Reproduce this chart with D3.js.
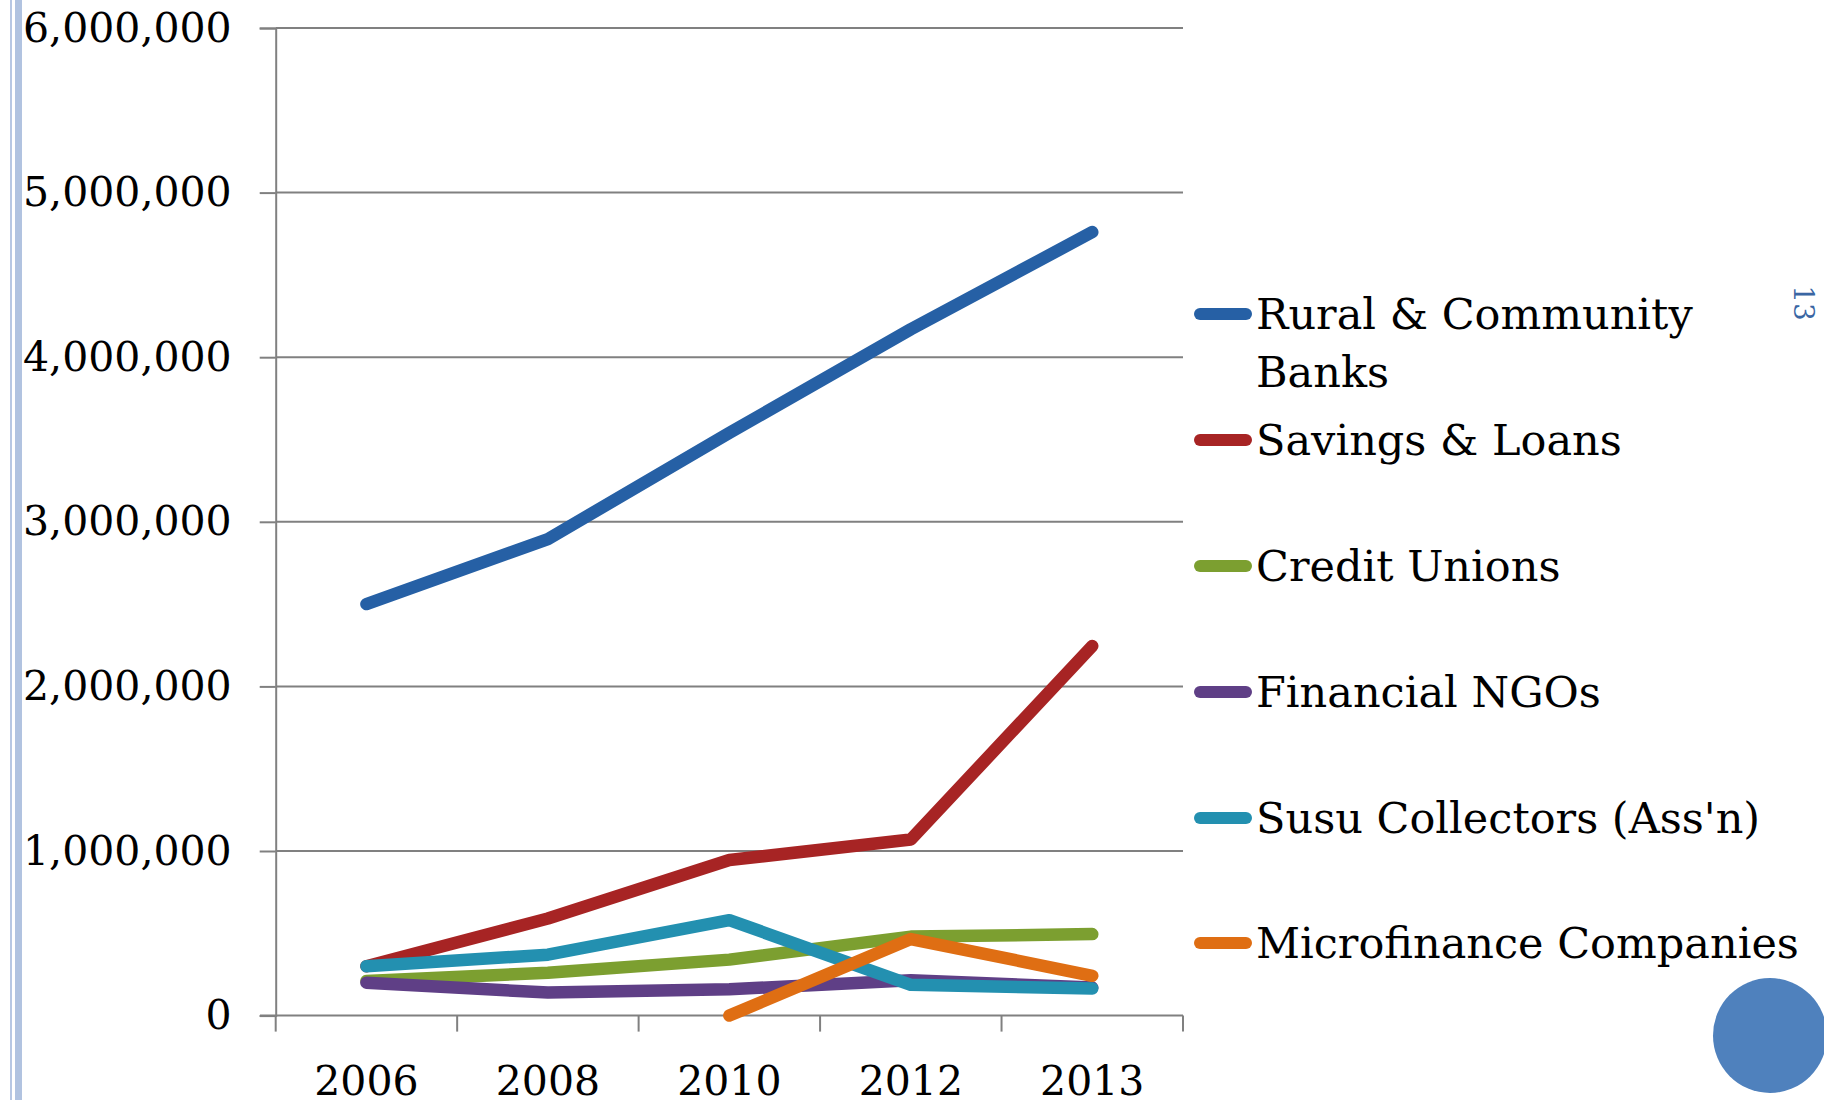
<!DOCTYPE html>
<html>
<head>
<meta charset="utf-8">
<script src="https://cdn.jsdelivr.net/npm/d3@7"></script>
<style>
  body { margin: 0; background: #fff; }
  svg { display: block; }
  text { font-family: "DejaVu Serif", "Liberation Serif", serif; fill: #000; }
</style>
</head>
<body>
<div id="chart"></div>
<script>
// data
var years = ["2006", "2008", "2010", "2012", "2013"];
var seriesNames = ["Rural & Community Banks", "Savings & Loans", "Credit Unions",
                   "Financial NGOs", "Susu Collectors (Ass'n)", "Microfinance Companies"];
var ruralBanks   = [2500000, 2895000, 3540000, 4170000, 4760000];
var savingsLoans = [300000, 590000, 945000, 1070000, 2245000];
var creditUnions = [210000, 260000, 340000, 480000, 495000];
var financialNGO = [200000, 140000, 160000, 215000, 170000];
var susu         = [300000, 370000, 580000, 187000, 165000];
var microfinance = [null, null, 0, 465000, 242000];
var yTicks = [0, 1000000, 2000000, 3000000, 4000000, 5000000, 6000000];
var colors = ["#2660a5", "#a72424", "#7c9f30", "#5f3f86", "#2390b0", "#df6e13"];

var allSeries = [ruralBanks, savingsLoans, creditUnions, financialNGO, susu, microfinance];

var W = 1824, H = 1100;
var svg = d3.select("#chart").append("svg")
    .attr("width", W)
    .attr("height", H);

// slide decoration on the left edge
svg.append("rect").attr("x", 10).attr("y", 0).attr("width", 2).attr("height", H).attr("fill", "#b7c7e3");
svg.append("rect").attr("x", 15).attr("y", 0).attr("width", 7).attr("height", H).attr("fill", "#b1c3e0");

// scales
var x = d3.scaleBand()
    .domain(years)
    .range([275.7, 1183]);
var y = d3.scaleLinear()
    .domain([0, 6000000])
    .range([1015.6, 28]);

// gridlines
svg.append("g")
  .selectAll("line")
  .data(yTicks.slice(1))
  .enter()
  .append("line")
    .attr("x1", 275.7).attr("x2", 1183)
    .attr("y1", function(d) { return y(d); })
    .attr("y2", function(d) { return y(d); })
    .attr("stroke", "#808080")
    .attr("stroke-width", 2);

// Y axis
var yAxis = svg.append("g")
    .attr("transform", "translate(275.7,0)")
    .call(d3.axisLeft(y).tickValues(yTicks).tickSize(16).tickPadding(28)
      .tickFormat(d3.format(",")));
yAxis.selectAll("line").attr("stroke", "#808080").attr("stroke-width", 2);
yAxis.select(".domain").attr("stroke", "#808080").attr("stroke-width", 2);
yAxis.selectAll("text")
    .attr("font-family", "DejaVu Serif")
    .attr("font-size", 41)
    .attr("fill", "#000");

// X axis
var xAxis = svg.append("g")
    .attr("transform", "translate(0,1015.6)")
    .call(d3.axisBottom(x).tickSize(0).tickPadding(50));
xAxis.select(".domain").remove();
xAxis.append("line")
    .attr("x1", 260).attr("x2", 1183).attr("y1", 0).attr("y2", 0)
    .attr("stroke", "#808080").attr("stroke-width", 2);
// tick marks sit on the band edges
var edges = years.map(function(d) { return x(d); }).concat([x.range()[1]]);
xAxis.selectAll(".edge")
  .data(edges)
  .enter()
  .append("line")
    .attr("x1", function(d) { return d; }).attr("x2", function(d) { return d; })
    .attr("y1", 0).attr("y2", 16)
    .attr("stroke", "#808080").attr("stroke-width", 2);
xAxis.selectAll("text")
    .attr("font-family", "DejaVu Serif")
    .attr("font-size", 41)
    .attr("fill", "#000");

// lines
var line = d3.line()
    .defined(function(d) { return d.v !== null; })
    .x(function(d) { return x(d.year) + x.bandwidth() / 2; })
    .y(function(d) { return y(d.v); });

allSeries.forEach(function(vals, i) {
  var pts = vals.map(function(v, j) { return {year: years[j], v: v}; });
  svg.append("path")
    .datum(pts)
    .attr("fill", "none")
    .attr("stroke", colors[i])
    .attr("stroke-width", 12.5)
    .attr("stroke-linecap", "round")
    .attr("stroke-linejoin", "round")
    .attr("d", line);
});

// legend
var legendY = [314, 440, 566, 692, 818, 943];
var legend = svg.append("g");
seriesNames.forEach(function(name, i) {
  var g = legend.append("g").attr("transform", "translate(0," + legendY[i] + ")");
  g.append("line")
    .attr("x1", 1200).attr("x2", 1246).attr("y1", 0).attr("y2", 0)
    .attr("stroke", colors[i])
    .attr("stroke-width", 12)
    .attr("stroke-linecap", "round");
  var t = g.append("text")
    .attr("x", 1256)
    .attr("y", 15)
    .attr("font-size", 43);
  if (i === 0) {
    t.text("Rural & Community");
    g.append("text").attr("x", 1256).attr("y", 73).attr("font-size", 43).text("Banks");
  } else {
    t.text(name);
  }
});

// slide number, rotated
svg.append("text")
    .attr("transform", "translate(1794,303) rotate(90)")
    .attr("text-anchor", "middle")
    .attr("font-size", 28)
    .style("fill", "#3a66a3")
    .text("13");

// slide ornament
svg.append("ellipse")
    .attr("cx", 1770).attr("cy", 1035.5)
    .attr("rx", 57).attr("ry", 57.5)
    .attr("fill", "#4f81bd");
</script>
</body>
</html>
